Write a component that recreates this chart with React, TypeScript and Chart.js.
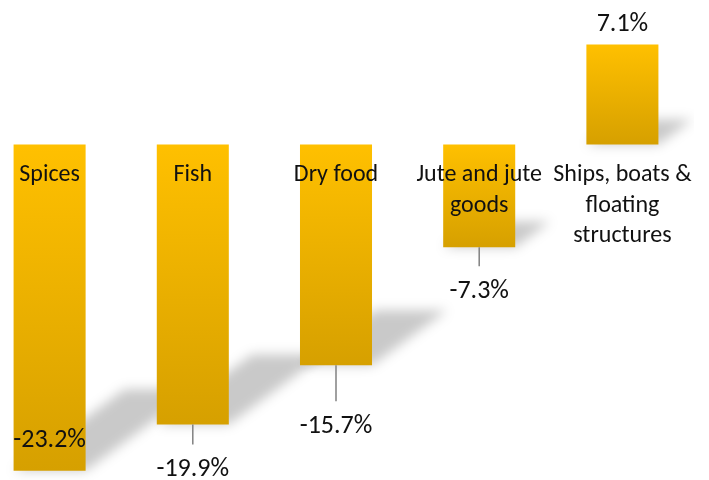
import React, { useEffect, useRef } from "react";
import { Chart, registerables } from "chart.js";

Chart.register(...registerables);

const categories: string[][] = [
  ["Spices"],
  ["Fish"],
  ["Dry food"],
  ["Jute and jute", "goods"],
  ["Ships, boats &", "floating", "structures"],
];
const growth: number[] = [-23.2, -19.9, -15.7, -7.3, 7.1];
const valueLabels: string[] = ["-23.2%", "-19.9%", "-15.7%", "-7.3%", "7.1%"];
// label nudge (px) away from bar end; negative = inside the bar
const LABEL_NUDGE: number[] = [-32, 43, 59, 42, 22];

const FONT = "Carlito, Lato, 'Noto Sans', sans-serif";
const TOP_COLOR = "#FFC000";
const BOTTOM_COLOR = "#D6A000";

const shadowPlugin = {
  id: "perspShadow",
  beforeDatasetsDraw(chart: any) {
    const ctx = chart.ctx;
    const meta = chart.getDatasetMeta(0);
    ctx.save();
    ctx.filter = "blur(6px)";
    ctx.fillStyle = "rgba(0,0,0,0.21)";
    meta.data.forEach((el: any) => {
      const { x, y, base, width } = el.getProps(["x", "y", "base", "width"], true);
      const x0 = x - width / 2;
      const x1 = x + width / 2;
      const bottom = Math.max(y, base);
      const h = Math.abs(base - y);
      const dx = 0.34 * h;
      const dy = -0.25 * h;
      ctx.beginPath();
      ctx.moveTo(x0, bottom);
      ctx.lineTo(x1, bottom);
      ctx.lineTo(x1 + dx, bottom + dy);
      ctx.lineTo(x0 + dx, bottom + dy);
      ctx.closePath();
      ctx.fill();
    });
    ctx.restore();
  },
};

const labelPlugin = {
  id: "customLabels",
  afterDatasetsDraw(chart: any) {
    const ctx = chart.ctx;
    const meta = chart.getDatasetMeta(0);
    const yScale = chart.scales.y;
    const zero = yScale.getPixelForValue(0);
    ctx.save();
    ctx.fillStyle = "#111111";
    ctx.textAlign = "center";
    ctx.textBaseline = "middle";
    meta.data.forEach((el: any, i: number) => {
      const { x, y } = el.getProps(["x", "y"], true);
      ctx.font = `24px ${FONT}`;
      const lines = categories[i];
      lines.forEach((ln, k) => {
        ctx.fillText(ln, x, zero + 31 + k * 30.5);
      });
      const v = growth[i];
      const dir = v < 0 ? 1 : -1;
      const ly = y + dir * LABEL_NUDGE[i];
      ctx.font = `26px ${FONT}`;
      ctx.fillText(valueLabels[i], x, ly + 2);
      if (v < 0 && LABEL_NUDGE[i] > 30) {
        ctx.strokeStyle = "#808080";
        ctx.lineWidth = 1.5;
        ctx.beginPath();
        ctx.moveTo(x, y);
        ctx.lineTo(x, ly - 23);
        ctx.stroke();
      }
    });
    ctx.restore();
  },
};

export default function App() {
  const ref = useRef<HTMLCanvasElement | null>(null);
  useEffect(() => {
    if (!ref.current) return;
    const chart = new Chart(ref.current, {
      type: "bar",
      data: {
        labels: categories.map((c) => c.join(" ")),
        datasets: [
          {
            data: growth,
            backgroundColor: (c: any) => {
              const ch = c.chart;
              const ys = ch.scales && ch.scales.y;
              if (!ys || c.dataIndex === undefined || !ch.chartArea) return TOP_COLOR;
              const v = growth[c.dataIndex];
              const top = ys.getPixelForValue(Math.max(v, 0));
              const bot = ys.getPixelForValue(Math.min(v, 0));
              if (!isFinite(top) || !isFinite(bot) || top === bot) return TOP_COLOR;
              const g = ch.ctx.createLinearGradient(0, top, 0, bot);
              g.addColorStop(0, TOP_COLOR);
              g.addColorStop(1, BOTTOM_COLOR);
              return g;
            },
            borderWidth: 0,
            categoryPercentage: 1,
            barPercentage: 0.503,
          },
        ],
      },
      options: {
        responsive: false,
        animation: false,
        layout: { padding: 0 },
        plugins: { legend: { display: false }, tooltip: { enabled: false } },
        scales: {
          x: { display: false },
          y: { display: false, min: -23.85, max: 10.27 },
        },
      },
      plugins: [shadowPlugin, labelPlugin],
    });
    return () => chart.destroy();
  }, []);
  return (
    <div style={{ position: "fixed", left: -22, top: 0, width: 716, height: 480 }}>
      <canvas ref={ref} width={716} height={480} style={{ width: 716, height: 480 }} />
    </div>
  );
}
